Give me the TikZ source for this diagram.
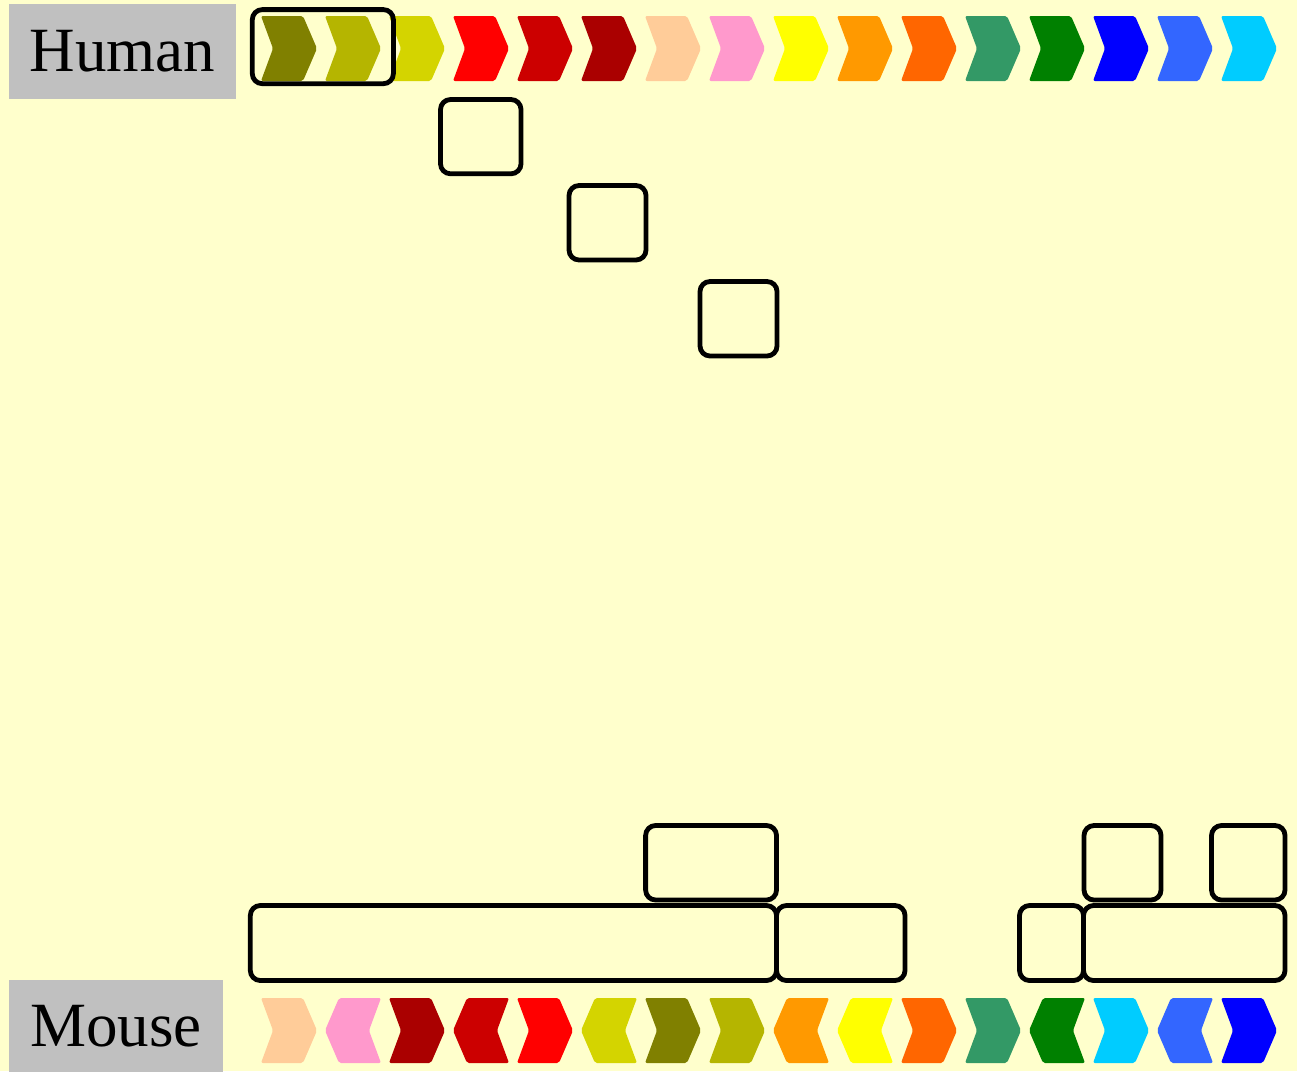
\documentclass[tikz,border=0pt]{standalone}
\usepackage{fontspec}
\setmainfont{Liberation Serif}
\definecolor{bg}{HTML}{FFFFCC}
\definecolor{lgrey}{HTML}{C0C0C0}
\definecolor{colive}{HTML}{808000}
\definecolor{colive2}{HTML}{B5B500}
\definecolor{colive3}{HTML}{D4D400}
\definecolor{cred}{HTML}{FF0000}
\definecolor{cred2}{HTML}{CC0000}
\definecolor{cred3}{HTML}{AA0000}
\definecolor{cpeach}{HTML}{FFCC99}
\definecolor{cpink}{HTML}{FF99CC}
\definecolor{cyell}{HTML}{FFFF00}
\definecolor{corange}{HTML}{FF9900}
\definecolor{corred}{HTML}{FF6600}
\definecolor{csea}{HTML}{339966}
\definecolor{cgreen}{HTML}{008000}
\definecolor{cblue}{HTML}{0000FF}
\definecolor{cblue2}{HTML}{3366FF}
\definecolor{ccyan}{HTML}{00CCFF}
\tikzset{
  boxr/.style={draw=black, line width=4.8pt, rounded corners=10pt},
  lbl/.style={fill=lgrey, inner sep=0pt, font=\fontsize{63}{70}\selectfont, text depth=0pt},
  chev/.style={rounded corners=2pt}
}
\newcommand\chevR[3]{\fill[chev,#3] ({#1},#2) -- ++(42,0) -- ++(14,32.5) -- ++(-14,32.5) -- ++(-42,0) -- ++(12,-32.5) -- cycle;}
\newcommand\chevL[3]{\fill[chev,#3] ({#1+56},#2) -- ++(-42,0) -- ++(-14,32.5) -- ++(14,32.5) -- ++(42,0) -- ++(-12,-32.5) -- cycle;}
\begin{document}
\begin{tikzpicture}[x=1pt,y=-1pt]
\fill[bg] (0,0) rectangle (1297,1071);
\useasboundingbox (0,0) rectangle (1297,1071);
% labels
\node[lbl, minimum width=227pt, minimum height=95pt, text height=39pt] (human) at (122.5,51.5) {Human};
\node[lbl, minimum width=214pt, minimum height=95pt, text height=37pt] (mouse) at (116,1027.5) {Mouse};
% human chevrons
\foreach \c [count=\i from 0] in {colive,colive2,colive3,cred,cred2,cred3,cpeach,cpink,cyell,corange,corred,csea,cgreen,cblue,cblue2,ccyan}
  {\chevR{261+64*\i}{16}{\c}}
% mouse chevrons
\foreach \c/\d [count=\i from 0] in {cpeach/R,cpink/L,cred3/R,cred2/L,cred/R,colive3/L,colive/R,colive2/R,corange/L,cyell/L,corred/R,csea/R,cgreen/L,ccyan/R,cblue2/L,cblue/R}
  {\csname chev\d\endcsname{261+64*\i}{998}{\c}}
% human boxes
\draw[boxr] (252.3,9.6) rectangle (393.4,83.7);
\draw[boxr] (440.5,99.5) rectangle (521,173.8);
\draw[boxr] (569,185.5) rectangle (646,260);
\draw[boxr] (700,281.5) rectangle (777,356);
% mouse boxes
\draw[boxr] (645.6,825.5) rectangle (776.5,900);
\draw[boxr] (250.3,905.5) rectangle (776.5,980.5);
\draw[boxr] (776.5,905.5) rectangle (905,980.5);
\draw[boxr] (1084,825.5) rectangle (1161,900);
\draw[boxr] (1211.5,825.5) rectangle (1285,900);
\draw[boxr] (1019.5,905.5) rectangle (1083.5,980.5);
\draw[boxr] (1083.5,905.5) rectangle (1285,980.5);
\end{tikzpicture}
\end{document}
